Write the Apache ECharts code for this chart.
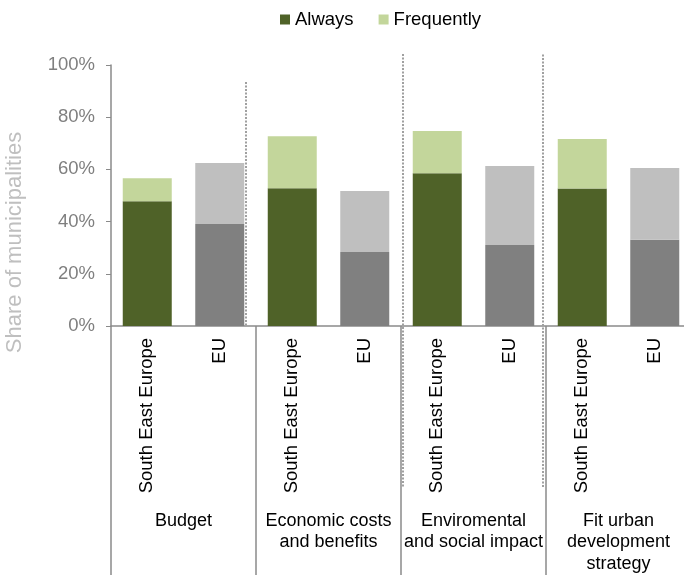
<!DOCTYPE html>
<html>
<head>
<meta charset="utf-8">
<script src="https://cdn.jsdelivr.net/npm/echarts@6/dist/echarts.min.js"></script>
<style>
html,body{margin:0;padding:0;background:#fff;}
#chart{width:684px;height:575px;}
</style>
</head>
<body>
<div id="chart"></div>
<script>
// ---- data ----
const categories = ['South East Europe', 'EU', 'South East Europe', 'EU', 'South East Europe', 'EU', 'South East Europe', 'EU'];
const groups = ['Budget', 'Economic costs\nand benefits', 'Enviromental\nand social impact', 'Fit urban\ndevelopment\nstrategy'];
const regions = ['SEE', 'EU', 'SEE', 'EU', 'SEE', 'EU', 'SEE', 'EU'];
const alwaysValues = [47.8, 39.1, 52.8, 28.4, 58.5, 31.0, 52.7, 33.0];
const frequentlyValues = [8.8, 23.4, 19.9, 23.3, 16.2, 30.3, 18.9, 27.5];
const seriesNames = ['Always', 'Frequently'];
const yAxisTitle = 'Share of municipalities';

// ---- styles ----
const FONT = 'Liberation Sans, Arial, sans-serif';
const colors = {
  SEE: { Always: '#4f6228', Frequently: '#c3d69b' },
  EU: { Always: '#808080', Frequently: '#bfbfbf' }
};

const chart = echarts.init(document.getElementById('chart'), null, { renderer: 'canvas' });

function makeData(values, key) {
  return values.map((v, i) => ({ value: v, itemStyle: { color: colors[regions[i]][key] } }));
}

const option = {
  animation: false,
  textStyle: { fontFamily: FONT },
  legend: {
    data: seriesNames,
    left: 275,
    top: 5,
    itemWidth: 10,
    itemHeight: 10,
    itemGap: 25,
    icon: 'rect',
    textStyle: { fontSize: 18.5, color: '#000', fontFamily: FONT }
  },
  grid: { left: 111, top: 65, width: 580, bottom: 249, containLabel: false, outerBoundsMode: 'none' },
  xAxis: [
    {
      type: 'category',
      data: categories,
      axisLine: { show: true, lineStyle: { color: '#8a8a8a', width: 1.5 } },
      axisTick: { show: false },
      axisLabel: {
        interval: 0, rotate: 90, margin: 12, fontSize: 18.5, color: '#000', fontFamily: FONT
      }
    },
    {
      type: 'category',
      data: groups,
      position: 'bottom',
      axisLine: { show: false },
      axisTick: { show: true, length: 250, interval: 0, lineStyle: { color: '#8a8a8a', width: 1.5 } },
      axisLabel: {
        interval: 0, margin: 184, fontSize: 18, lineHeight: 21.5, color: '#000',
        fontFamily: FONT, align: 'center', hideOverlap: false
      }
    }
  ],
  yAxis: {
    type: 'value',
    min: 0, max: 100, interval: 20,
    axisLine: { show: true, lineStyle: { color: '#8a8a8a', width: 1.5 } },
    axisTick: { show: true, length: 5, lineStyle: { color: '#8a8a8a' } },
    splitLine: { show: false },
    axisLabel: { formatter: '{value}%', fontSize: 18.5, color: '#7f7f7f', margin: 16, fontFamily: FONT }
  },
  series: [
    {
      name: seriesNames[0], type: 'bar', stack: 'total', barWidth: 49,
      itemStyle: { color: colors.SEE.Always },
      data: makeData(alwaysValues, 'Always')
    },
    {
      name: seriesNames[1], type: 'bar', stack: 'total', barWidth: 49,
      itemStyle: { color: colors.SEE.Frequently },
      data: makeData(frequentlyValues, 'Frequently')
    }
  ]
};
chart.setOption(option);

// decorative dotted separators and y-axis title
const c1 = chart.convertToPixel({ xAxisIndex: 0 }, 0);
const c2 = chart.convertToPixel({ xAxisIndex: 0 }, 1);
const step = c2 - c1;
const xAt = (u) => Math.round(c1 + (u - 0.5) * step);   // u measured in category widths from the axis start
const yAt = (v) => chart.convertToPixel({ yAxisIndex: 0 }, v);
const dotted = [
  { u: 1.862, top: 93.5, bottom: 0 },
  { u: 4.028, top: 104.2, bottom: -62 },
  { u: 5.959, top: 104.0, bottom: -62 }
];
const y0 = yAt(0), y100 = yAt(100);
const graphics = dotted.map(d => ({
  type: 'line',
  shape: { x1: xAt(d.u), y1: yAt(d.top), x2: xAt(d.u), y2: yAt(d.bottom) },
  style: { stroke: '#a0a0a0', lineWidth: 2, lineDash: [2, 1.5] },
  z: 10
}));
graphics.push({
  type: 'text',
  x: 15, y: (y0 + y100) / 2 + 47,
  rotation: Math.PI / 2,
  style: { text: yAxisTitle, fontSize: 22, fill: '#bfbfbf', align: 'center', verticalAlign: 'middle', fontFamily: FONT }
});
chart.setOption({ graphic: graphics });
</script>
</body>
</html>
